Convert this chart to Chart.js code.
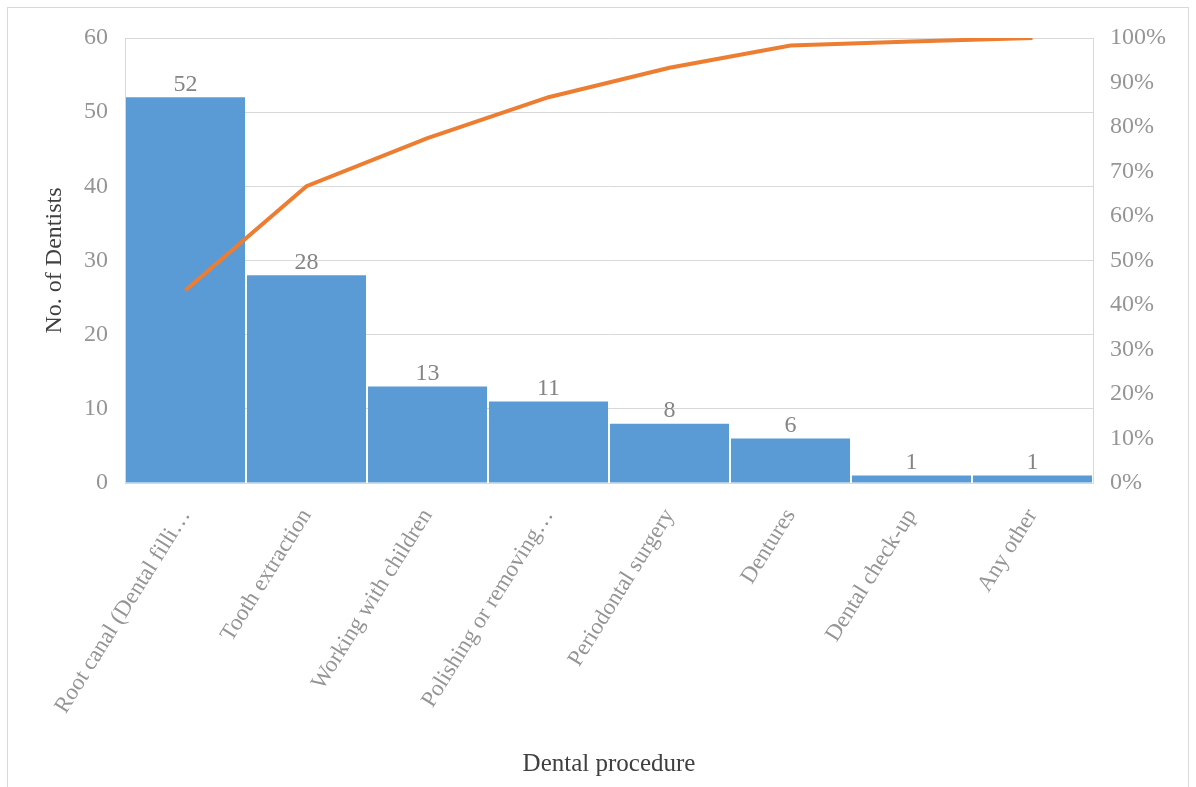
<!DOCTYPE html>
<html>
<head>
<meta charset="utf-8">
<script src="https://cdn.jsdelivr.net/npm/chart.js@4"></script>
<style>
  html, body { margin: 0; padding: 0; background: #fff; }
  #wrap { position: relative; width: 1196px; height: 787px; }
  #frame { position: absolute; left: 7px; top: 7px; width: 1182px; height: 790px; border: 1px solid #d9d9d9; box-sizing: border-box; }
  canvas { position: absolute; left: 0; top: 0; }
</style>
</head>
<body>
<div id="wrap">
  <div id="frame"></div>
  <canvas id="myChart" width="1196" height="787"></canvas>
</div>
<script>
// procedures, number of dentists and the running share (%)
const procedimientos = [
  "Root canal (Dental filli…",
  "Tooth extraction",
  "Working with children",
  "Polishing or removing…",
  "Periodontal surgery",
  "Dentures",
  "Dental check-up",
  "Any other",
];
const dentistas = [52, 28, 13, 11, 8, 6, 1, 1];
const acumulado = [43.3, 66.7, 77.5, 86.7, 93.3, 98.3, 99.2, 100];

const ticksIzq = [0, 10, 20, 30, 40, 50, 60];
const ticksDer = [0, 10, 20, 30, 40, 50, 60, 70, 80, 90, 100];

const fuente = "'Liberation Serif', 'Times New Roman', serif";
const gris = "#959595";
const linea = "#d9d9d9";

// numbers above each bar (bars are dataset 1)
const etiquetas = {
  id: "etiquetas",
  afterDatasetsDraw(chart) {
    const ctx = chart.ctx;
    const meta = chart.getDatasetMeta(1);
    ctx.save();
    ctx.font = "24px " + fuente;
    ctx.fillStyle = "#858585";
    ctx.textAlign = "center";
    ctx.textBaseline = "bottom";
    meta.data.forEach((bar, i) => {
      ctx.fillText(String(dentistas[i]), bar.x, bar.y - 1);
    });
    ctx.restore();
  },
};

const ctx = document.getElementById("myChart");
new Chart(ctx, {
  type: "bar",
  data: {
    labels: procedimientos,
    datasets: [
      {
        type: "line",
        label: "Cumulative %",
        data: acumulado,
        yAxisID: "y2",
        borderColor: "#ED7D31",
        borderWidth: 4,
        pointRadius: 0,
        tension: 0,
        order: 0,
      },
      {
        label: "No. of Dentists",
        data: dentistas,
        yAxisID: "y",
        backgroundColor: "#5B9BD5",
        barPercentage: 1,
        categoryPercentage: 0.984,
        order: 1,
      },
    ],
  },
  options: {
    responsive: false,
    animation: false,
    layout: { padding: { left: 40, top: 38, right: 0, bottom: 6 } },
    plugins: { legend: { display: false }, tooltip: { enabled: false } },
    scales: {
      x: {
        grid: { display: false },
        border: { display: true, color: linea },
        ticks: {
          autoSkip: false,
          minRotation: 58,
          maxRotation: 58,
          padding: 13,
          color: gris,
          font: { family: fuente, size: 23 },
        },
        title: {
          display: true,
          text: "Dental procedure",
          color: "#404040",
          padding: { top: 0, bottom: 2 },
          font: { family: fuente, size: 25 },
        },
        afterFit(s) { s.height = 787 - 483 - 6; },
      },
      y: {
        position: "left",
        min: 0,
        max: 60,
        afterBuildTicks(s) { s.ticks = ticksIzq.map(v => ({ value: v })); },
        grid: { color: linea, drawTicks: false },
        border: { display: true, color: linea },
        ticks: {
          padding: 17,
          color: gris,
          font: { family: fuente, size: 24 },
        },
        title: {
          display: true,
          text: "No. of Dentists",
          color: "#404040",
          padding: 0,
          font: { family: fuente, size: 24 },
        },
        afterFit(s) { s.width = 125 - 40; },
      },
      y2: {
        position: "right",
        min: 0,
        max: 100,
        afterBuildTicks(s) { s.ticks = ticksDer.map(v => ({ value: v })); },
        grid: { display: false, drawTicks: false },
        border: { display: true, color: linea },
        ticks: {
          padding: 17,
          color: gris,
          font: { family: fuente, size: 24 },
          callback: v => v + "%",
        },
        afterFit(s) { s.width = 1196 - 1093; },
      },
    },
  },
  plugins: [etiquetas],
});
</script>
</body>
</html>
